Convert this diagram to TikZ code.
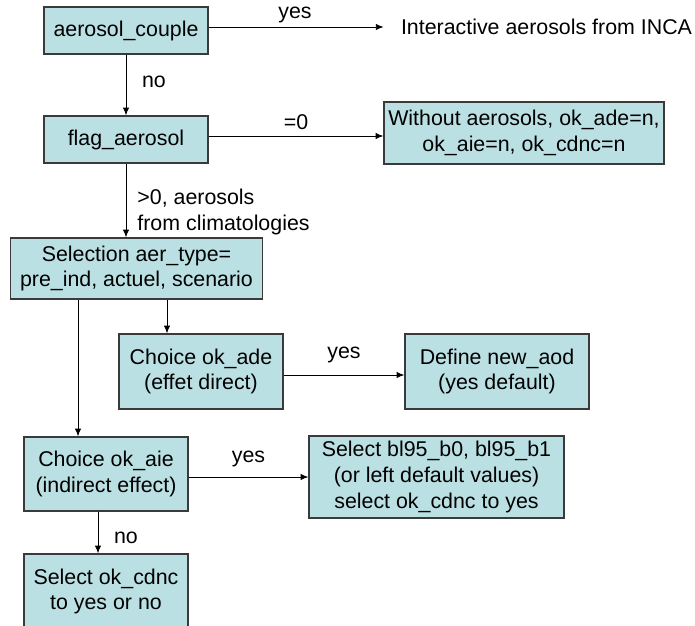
\documentclass[tikz,border=0pt]{standalone}
\usepackage{fontspec}
\setmainfont{Liberation Sans}
\usetikzlibrary{positioning, arrows.meta}

\definecolor{boxfill}{HTML}{BBE0E3}
\definecolor{boxline}{HTML}{3A3A3A}

\tikzset{
  box/.style={draw=boxline, fill=boxfill, line width=0.9pt, align=center,
    inner sep=0pt, minimum width=4.1cm, minimum height=1.175cm},
  lbl/.style={inner sep=0pt}
}

\begin{document}
\begin{tikzpicture}[on grid, >={Latex[length=5.5pt,width=4.5pt]}, line width=0.6pt,
    font=\fontsize{15.2pt}{18.2pt}\selectfont]
  \useasboundingbox (0,0) rectangle (17.375,-15.65);
  % boxes
  \node[box] (couple) at (3.15,-0.7625) {aerosol\_couple};
  \node[box, below=2.725cm of couple] (flag) {flag\_aerosol};
  \node[lbl, above right=0.0875cm and 10.5125cm of couple] (inca) {Interactive aerosols from INCA};
  \node[box, minimum width=7cm, minimum height=1.55cm, above right=0.1625cm and 9.95cm of flag] (nonebox)
    {Without aerosols, ok\_ade=n,\\ok\_aie=n, ok\_cdnc=n};
  \node[box, minimum width=6.3cm, minimum height=1.525cm, below right=3.225cm and 0.2625cm of flag] (sel)
    {Selection aer\_type=\\pre\_ind, actuel, scenario};
  \node[box, minimum height=1.875cm, below right=2.575cm and 1.6125cm of sel] (ade) {Choice ok\_ade\\(effet direct)};
  \node[box, minimum width=4.6cm, minimum height=1.875cm, right=7.4cm of ade] (aod) {Define new\_aod\\(yes default)};
  \node[box, minimum height=1.85cm, below left=5.1375cm and 0.7625cm of sel] (aie) {Choice ok\_aie\\(indirect effect)};
  \node[box, minimum width=6.375cm, minimum height=2.05cm, below right=0.075cm and 8.2625cm of aie] (bl95)
    {Select bl95\_b0, bl95\_b1\\(or left default values)\\select ok\_cdnc to yes};
  \node[box, minimum height=1.875cm, below=2.9375cm of aie] (cdnc) {Select ok\_cdnc\\to yes or no};

  % connectors
  \draw[->, shorten >=0.425cm] (couple.east |- inca.west) -- (inca.west)
    node[lbl, pos=0.45, yshift=0.3cm] {yes};
  \draw[->] (couple) -- (flag)
    node[lbl, midway, xshift=0.7cm, yshift=0.08cm] {no};
  \draw[->] ([yshift=0.0875cm]flag.east) -- ([yshift=0.0875cm]flag.east -| nonebox.west)
    node[lbl, midway, yshift=0.34cm] {=0};
  \draw[->] (flag) -- (flag |- sel.north)
    node[lbl, midway, anchor=west, align=left, xshift=0.275cm, yshift=-0.29cm] {>0, aerosols\\from climatologies};
  \draw[->] ([xshift=0.7625cm]sel.south) -- ([xshift=0.7625cm]sel.south |- ade.north);
  \draw[->] ([xshift=-1.4625cm]sel.south) -- ([xshift=-1.4625cm]sel.south |- aie.north);
  \draw[->] ([yshift=-0.0875cm]ade.east) -- ([yshift=-0.0875cm]ade.east -| aod.west)
    node[lbl, midway, yshift=0.5cm] {yes};
  \draw[->] (aie.east |- bl95.west) -- (bl95.west)
    node[lbl, midway, yshift=0.45cm] {yes};
  \draw[->] ([xshift=-0.2cm]aie.south) -- ([xshift=-0.2cm]aie.south |- cdnc.north)
    node[lbl, midway, xshift=0.7cm, yshift=-0.14cm] {no};
\end{tikzpicture}
\end{document}
